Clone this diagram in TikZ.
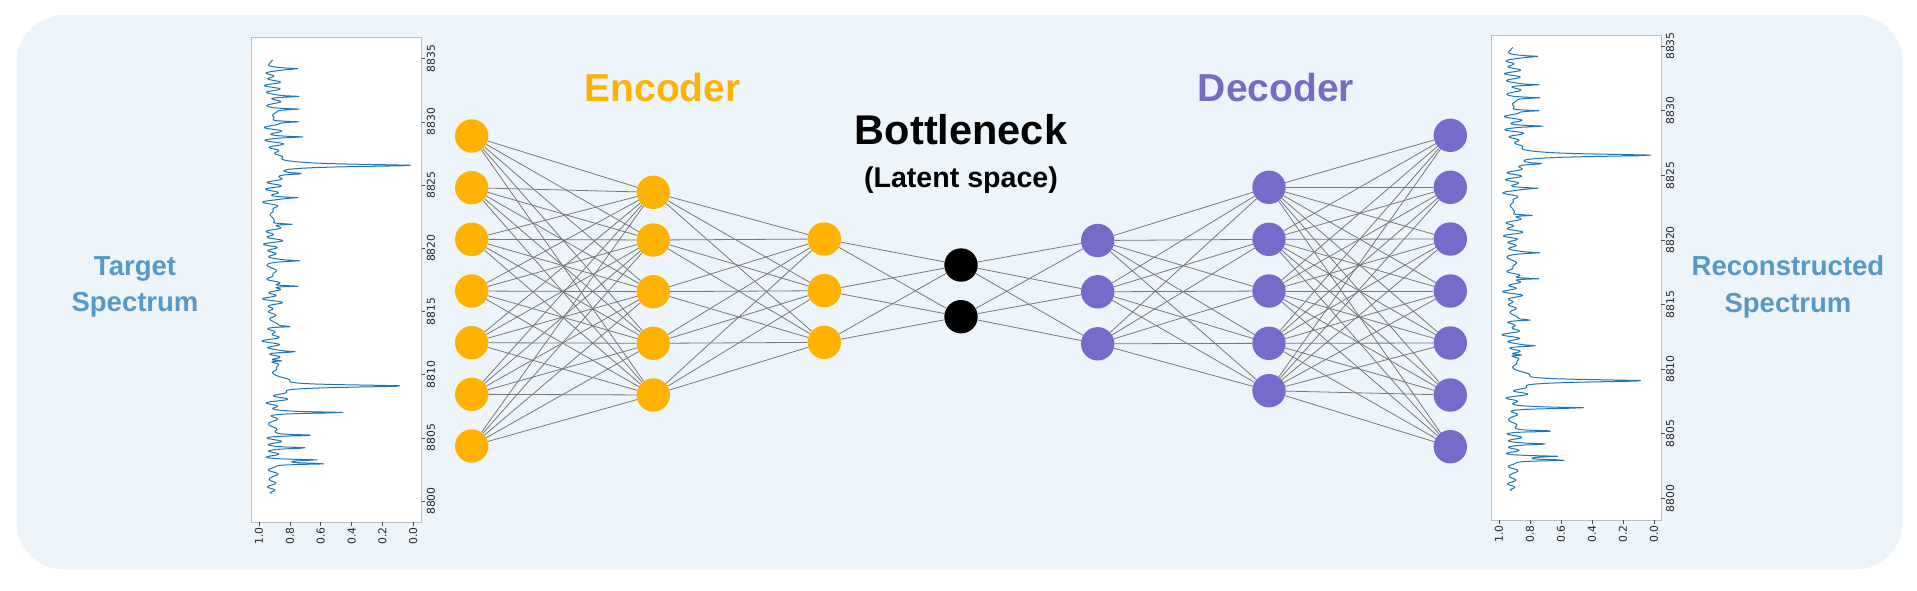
\documentclass[tikz,border=0pt]{standalone}
\usepackage{fontspec}
\setmainfont{Liberation Sans}
\newfontfamily\dejavu{DejaVu Sans}
\definecolor{bgc}{RGB}{237,244,250}
\definecolor{encc}{RGB}{255,179,0}
\definecolor{decc}{RGB}{118,106,202}
\definecolor{labc}{RGB}{86,152,199}
\definecolor{edgec}{RGB}{120,120,120}
\definecolor{specc}{RGB}{31,119,180}
\definecolor{axc}{RGB}{190,190,190}
\tikzset{
  neuron/.style={circle, minimum size=33.4pt, inner sep=0pt},
  encn/.style={neuron, fill=encc},
  decn/.style={neuron, fill=decc},
  botn/.style={neuron, fill=black},
  link/.style={draw=edgec, line width=0.8pt},
  ticklab/.style={font=\dejavu\fontsize{10.8}{11}\selectfont, inner sep=0pt, rotate=90, text=black!85},
  axbox/.style={draw=axc, fill=white, line width=1pt},
  tickmark/.style={draw=black!70, line width=0.6pt},
  curve/.style={draw=specc, line width=1pt, line join=round},
  title/.style={font=\bfseries\fontsize{39}{45}\selectfont, inner sep=0pt, anchor=base},
  sidelab/.style={font=\bfseries\fontsize{27.5}{36.7}\selectfont, text=labc, align=center, inner sep=0pt},
}
\newcommand\specpanel[9]{%
  \draw[axbox] (#2,#3) rectangle (#4,#5);
  \foreach \k/\tklab in {0/0.0,1/0.2,2/0.4,3/0.6,4/0.8,5/1.0} {
    \draw[tickmark] ({#6-#7*0.2*\k},#5) -- ({#6-#7*0.2*\k},#5+3.5);
    \node[ticklab, anchor=east] (#1-i\k) at ({#6-#7*0.2*\k},#5+5) {\tklab};
  }
  \foreach \k/\tklab in {0/8800,1/8805,2/8810,3/8815,4/8820,5/8825,6/8830,7/8835} {
    \draw[tickmark] (#4,{#8-#9*5*\k}) -- (#4+3.5,{#8-#9*5*\k});
    \node[ticklab, anchor=north] (#1-w\k) at (#4+5,{#8-#9*5*\k}) {\tklab};
  }
  \draw[curve] plot[domain=0.6:34.9, samples=750] ({#6-#7*spec(\x)},{#8-#9*\x});
}
\begin{document}
\begin{tikzpicture}[x=1pt, y=-1pt,
  declare function={
    sq(\vu)=\vu*\vu;
    lz(\vt,\vc,\vd,\vg)=\vd/(1+sq(min(abs(\vt-\vc),3)/\vg));
    spec(\vt)=0.925+0.025*sin(6*mod(110*\vt,360))+0.02*sin(4*mod(107*\vt,360)+50)
      +0.018*sin(9*mod(83*\vt,360)+20)+0.012*sin(290*\vt+70)
      -lz(\vt,26.55,0.78,0.10)-lz(\vt,26.55,0.10,0.6)
      -lz(\vt,9.1,0.72,0.10)-lz(\vt,9.1,0.10,0.6)
      -lz(\vt,7.0,0.43,0.06)
      -lz(\vt,2.95,0.36,0.06)-lz(\vt,3.25,0.25,0.05)
      -lz(\vt,4.2,0.2,0.05)-lz(\vt,5.2,0.3,0.05)
      -lz(\vt,11.1,0.12,0.05)-lz(\vt,11.8,0.14,0.05)
      -lz(\vt,13.8,0.14,0.05)-lz(\vt,17.0,0.22,0.05)
      -lz(\vt,19.0,0.14,0.05)-lz(\vt,21.9,0.16,0.05)
      -lz(\vt,24.0,0.13,0.05)-lz(\vt,25.9,0.13,0.05)
      -lz(\vt,28.8,0.18,0.05)-lz(\vt,30.0,0.18,0.05)
      -lz(\vt,31.0,0.18,0.05)-lz(\vt,32.0,0.18,0.05)
      -lz(\vt,34.2,0.12,0.05);
  }]
\useasboundingbox (0,0) rectangle (1917,590);
\fill[bgc, rounded corners=47pt] (16.7,15) rectangle (1902.7,569.3);

% spectra
\specpanel{L}{251.7}{37.3}{421.7}{522.3}{413.3}{154.3}{501}{12.64}
\specpanel{R}{1491.7}{35.3}{1661}{520}{1654}{155}{498.3}{12.92}

% side labels
\node[sidelab] (tgt) at (135,287) {Target\\Spectrum};
\node[sidelab] (rec) at (1788,287) {Reconstructed\\Spectrum};

% titles
\node[title, text=encc] (enc) at (662.5,101.7) {Encoder};
\node[title, text=decc] (dec) at (1276,101.7) {Decoder};
\node[title, font=\bfseries\fontsize{41.5}{48}\selectfont] (bot) at (961,144) {Bottleneck};
\node[title, font=\bfseries\fontsize{28.6}{34}\selectfont] (lat) at (961,187.7) {(Latent space)};

% neurons
\foreach \i/\yy in {1/136,2/187.7,3/239.3,4/291,5/342.7,6/394.3,7/446}
  \node[encn] (e1-\i) at (471.7,\yy) {};
\foreach \i/\yy in {1/192.3,2/240,3/291.7,4/343.3,5/395}
  \node[encn] (e2-\i) at (653.3,\yy) {};
\foreach \i/\yy in {1/239,2/290.7,3/342.3}
  \node[encn] (e3-\i) at (824.3,\yy) {};
\foreach \i/\yy in {1/265,2/316.7}
  \node[botn] (b-\i) at (961,\yy) {};
\foreach \i/\yy in {1/240.5,2/291.8,3/343.8}
  \node[decn] (d1-\i) at (1097.7,\yy) {};
\foreach \i/\yy in {1/187.3,2/239.3,3/291,4/343.3,5/390.7}
  \node[decn] (d2-\i) at (1269,\yy) {};
\foreach \i/\yy in {1/135.3,2/187.3,3/239,4/291,5/343,6/395,7/446.7}
  \node[decn] (d3-\i) at (1450.3,\yy) {};

% connections
\foreach \i in {1,...,7} \foreach \j in {1,...,5} \draw[link] (e1-\i) -- (e2-\j);
\foreach \i in {1,...,5} \foreach \j in {1,...,3} \draw[link] (e2-\i) -- (e3-\j);
\foreach \i in {1,...,3} \foreach \j in {1,...,2} \draw[link] (e3-\i) -- (b-\j);
\foreach \i in {1,...,2} \foreach \j in {1,...,3} \draw[link] (b-\i) -- (d1-\j);
\foreach \i in {1,...,3} \foreach \j in {1,...,5} \draw[link] (d1-\i) -- (d2-\j);
\foreach \i in {1,...,5} \foreach \j in {1,...,7} \draw[link] (d2-\i) -- (d3-\j);
\end{tikzpicture}
\end{document}
